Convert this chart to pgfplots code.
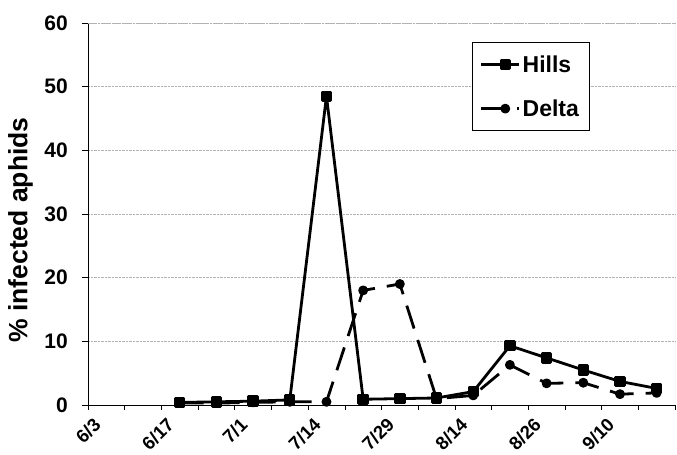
\documentclass[border=0pt]{standalone}
\usepackage{fontspec}
\setmainfont{Liberation Sans}
\usepackage{pgfplots}
\pgfplotsset{compat=1.18}
\begin{document}
\begin{tikzpicture}
\begin{axis}[
  scale only axis, width=587pt, height=382pt,
  xmin=-0.5, xmax=15.5, ymin=0, ymax=60,
  axis x line*=bottom, axis y line*=left,
  axis line style={black, line width=0.8pt},
  xtick={0,2,...,14},
  xticklabels={6/3,6/17,7/1,7/14,7/29,8/14,8/26,9/10},
  major x tick style={draw=none},
  minor xtick={-0.5,0.5,...,15.5},
  minor tick length=5pt,
  major tick length=6pt,
  ytick={0,10,...,60},
  tick align=outside,
  tick style={black, line width=0.6pt},
  ymajorgrids,
  grid style={gray!60, densely dotted, line width=0.6pt},
  /pgf/number format/assume math mode=true,
  yticklabel style={font=\fontsize{21}{25}\selectfont\bfseries, inner xsep=14pt},
  xticklabel style={font=\fontsize{18.5}{22}\selectfont\bfseries, xshift=-14pt, yshift=-4pt, rotate=45, anchor=north east, inner sep=1pt},
  ylabel={\% infected aphids},
  ylabel style={font=\fontsize{26.5}{30}\selectfont\bfseries, at={(axis description cs:-0.115,0.458)}, anchor=center},
  legend style={at={(axis description cs:0.6535,0.95)}, anchor=north west, draw=black, line width=0.6pt,
    font=\fontsize{23}{27}\selectfont\bfseries, inner xsep=8pt, inner ysep=11pt, row sep=22pt,
    /tikz/every even column/.append style={column sep=2pt}},
  legend cell align=left,
  reverse legend,
  legend image code/.code={\draw[mark repeat=2,mark phase=2,#1] plot coordinates {(0pt,0pt) (24pt,0pt) (38pt,0pt)};},
]
\coordinate (sw) at (rel axis cs:0,0);
\coordinate (ne) at (rel axis cs:1,1);
\draw[gray!60, densely dotted, line width=0.6pt] (rel axis cs:0,1) -- (rel axis cs:1,1) -- (rel axis cs:1,0);
\addplot[black, line width=2.8pt, line join=round, dash pattern=on 24pt off 12pt, mark=*, mark size=3.5pt, mark options={solid}]
  coordinates {(2,0.3) (3,0.3) (4,0.4) (5,0.5) (6,0.5) (7,18.0) (8,19.0) (9,1.0) (10,1.5) (11,6.3) (12,3.4) (13,3.5) (14,1.7) (15,1.9)};
\addlegendentry{Delta}
\addplot[black, line width=2.8pt, line join=round, mark=square*, mark size=4.3pt, mark options={solid}]
  coordinates {(2,0.4) (3,0.5) (4,0.6) (5,0.8) (6,48.5) (7,0.9) (8,1.0) (9,1.1) (10,2.1) (11,9.3) (12,7.4) (13,5.5) (14,3.7) (15,2.6)};
\addlegendentry{Hills}
\end{axis}
\pgfresetboundingbox
\path ([shift={(-88pt,-50pt)}]sw) rectangle ([shift={(2pt,23pt)}]ne);
\end{tikzpicture}
\end{document}
